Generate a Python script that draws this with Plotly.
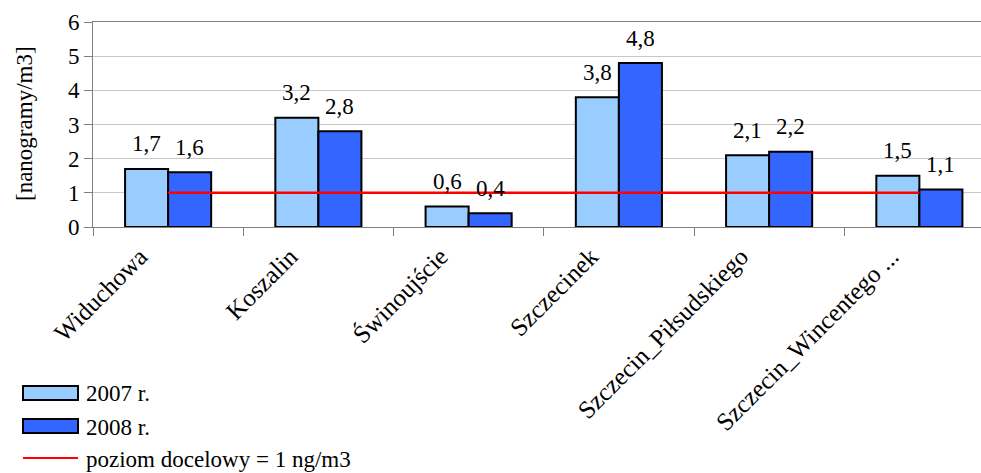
import plotly.graph_objects as go

# Stations and measured annual means (ng/m3)
stations = ["Widuchowa", "Koszalin", "Świnoujście", "Szczecinek",
            "Szczecin_Piłsudskiego", "Szczecin_Wincentego ..."]
values_2007 = [1.7, 3.2, 0.6, 3.8, 2.1, 1.5]
values_2008 = [1.6, 2.8, 0.4, 4.8, 2.2, 1.1]
target_level = [1, 1, 1, 1, 1, 1]

series_names = ["2007 r.", "2008 r.", "poziom docelowy = 1 ng/m3"]
y_ticks = [0, 1, 2, 3, 4, 5, 6]

FONT = "Liberation Serif"
C07 = "#99CCFF"
C08 = "#3366FF"
RED = "#FF0000"

W, H = 981, 473
ML, MR, MT, MB = 93, 0, 22, 246
PW, PH = W - ML - MR, H - MT - MB
CAT_PX = 150.25  # width of one category slot


def px_x(x):
    return (x - ML) / PW


def px_y(y):
    return (H - MB - y) / PH


def fmt(v):
    return f"{v:.1f}".replace(".", ",")


def txt(size=23):
    return dict(family=FONT, size=size)


fig = go.Figure()
fig.add_trace(go.Bar(x=stations, y=values_2007, name=series_names[0],
                     marker=dict(color=C07, line=dict(color="black", width=2))))
fig.add_trace(go.Bar(x=stations, y=values_2008, name=series_names[1],
                     marker=dict(color=C08, line=dict(color="black", width=2))))
fig.add_trace(go.Scatter(x=stations, y=target_level, name=series_names[2],
                         mode="lines", line=dict(color=RED, width=2.5)))

bargap = 0.427
half = (1 - bargap) / 4

# value labels above each bar
for i in range(len(stations)):
    for off, vals in ((-half, values_2007), (half, values_2008)):
        fig.add_annotation(x=i + off, y=vals[i], xref="x", yref="y",
                           text=fmt(vals[i]), showarrow=False,
                           yanchor="middle", yshift=25, font=txt())

# y-axis title
fig.add_annotation(x=px_x(24), y=px_y(124), xref="paper", yref="paper",
                   text="[nanogramy/m3]", textangle=-90, showarrow=False,
                   xanchor="center", yanchor="middle", font=txt())

# legend drawn below the axis
legend_rows = [(393, C07, "bar"), (426, C08, "bar"), (458, RED, "line")]
for (cy, col, kind), name in zip(legend_rows, series_names):
    if kind == "bar":
        fig.add_shape(type="rect", xref="paper", yref="paper",
                      x0=px_x(23), x1=px_x(78), y0=px_y(cy - 7), y1=px_y(cy + 7),
                      fillcolor=col, line=dict(color="black", width=2))
    else:
        fig.add_shape(type="line", xref="paper", yref="paper",
                      x0=px_x(23), x1=px_x(78), y0=px_y(cy), y1=px_y(cy),
                      line=dict(color=col, width=2))
    fig.add_annotation(x=px_x(84), y=px_y(cy + 1), xref="paper", yref="paper",
                       text=name, showarrow=False, xanchor="left",
                       yanchor="middle", font=txt())

fig.update_layout(
    width=W, height=H,
    margin=dict(l=ML, r=MR, t=MT, b=MB),
    font=dict(family=FONT, size=23, color="#000000"),
    plot_bgcolor="white",
    barmode="group", bargap=bargap, bargroupgap=0,
    showlegend=False,
)
fig.update_xaxes(
    range=[-0.5, -0.5 + PW / CAT_PX],
    tickangle=-45, tickson="boundaries", ticks="outside", ticklen=8,
    tickcolor="#808080", showline=True, linecolor="#808080", linewidth=1,
    mirror=True, showgrid=False,
    ticklabelshift=-28, ticklabelstandoff=4,
    tickfont=txt(25),
)
fig.update_yaxes(
    range=[0, 6], tickvals=y_ticks, ticks="outside", ticklen=8,
    tickcolor="#808080", showline=True, linecolor="#808080", linewidth=1,
    showgrid=True, gridcolor="#C8C8C8", gridwidth=1, zeroline=False,
    tickfont=txt(),
)

fig.write_html("out.html")
